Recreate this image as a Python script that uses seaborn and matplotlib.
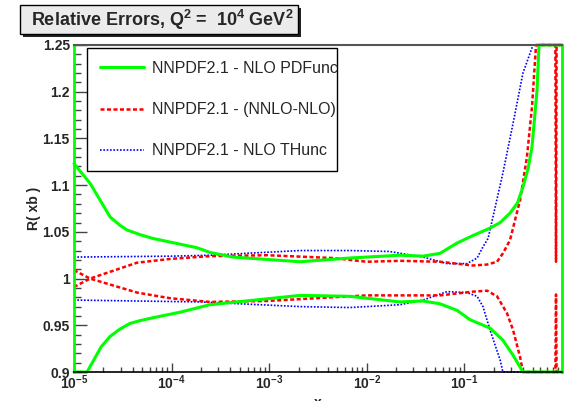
import numpy as np
import pandas as pd
import matplotlib
matplotlib.use("Agg")
import matplotlib.pyplot as plt
import seaborn as sns
from matplotlib.patches import Rectangle
from matplotlib.lines import Line2D
from matplotlib.ticker import FixedLocator, FixedFormatter, LogLocator, NullFormatter, MultipleLocator

sns.set_style("white")
plt.rcParams["font.family"] = ["Liberation Sans", "DejaVu Sans"]
plt.rcParams["mathtext.fontset"] = "custom"
plt.rcParams["mathtext.rm"] = "Liberation Sans"
plt.rcParams["mathtext.bf"] = "Liberation Sans:bold"
plt.rcParams["mathtext.it"] = "Liberation Sans:italic"

# ---------------- data ----------------
title = r"Relative Errors, Q$^{\mathbf{2}}$ =  10$^{\mathbf{4}}$ GeV$^{\mathbf{2}}$"
legend_labels = ["NNPDF2.1 - NLO PDFunc", "NNPDF2.1 - (NNLO-NLO)", "NNPDF2.1 - NLO THunc"]

# NLO PDF uncertainty band (green)
x_pdf_up = [1.0e-5, 1.46e-5, 1.85e-5, 2.34e-5, 2.96e-5, 3.49e-5, 4.75e-5, 6.4e-5, 1.82e-4,
            2.47e-4, 4.26e-4, 2.07e-3, 6.7e-3, 2.19e-2, 3.77e-2, 5.62e-2, 8.4e-2, 0.122,
            0.183, 0.233, 0.293, 0.35, 0.398, 0.45, 0.493, 0.555, 0.581, 1.0]
pdf_up = [1.123, 1.102, 1.084, 1.066, 1.057, 1.052, 1.047, 1.043, 1.033,
          1.028, 1.023, 1.018, 1.022, 1.025, 1.024, 1.027, 1.038, 1.046,
          1.054, 1.060, 1.070, 1.081, 1.098, 1.118, 1.141, 1.202, 1.25, 1.25]
x_pdf_lo = [1.0e-5, 1.36e-5, 1.9e-5, 2.34e-5, 2.96e-5, 3.75e-5, 4.75e-5, 6.4e-5, 1.22e-4,
            2.47e-4, 2.07e-3, 6.7e-3, 2.19e-2, 3.77e-2, 5.62e-2, 8.4e-2, 0.114, 0.183,
            0.248, 0.315, 0.398, 1.0]
pdf_lo = [0.90, 0.90, 0.927, 0.938, 0.946, 0.952, 0.955, 0.958, 0.964,
          0.972, 0.982, 0.981, 0.975, 0.976, 0.973, 0.966, 0.956, 0.947,
          0.934, 0.918, 0.90, 0.90]

# NNLO-NLO difference (red)
x_nn_up = [1.0e-5, 1.46e-5, 4.43e-5, 9.6e-5, 2.47e-4, 9.5e-4, 4.5e-3, 1.0e-2, 2.19e-2,
           5.62e-2, 0.122, 0.171, 0.216, 0.248, 0.293, 0.372, 0.437, 0.493, 0.542,
           0.855, 0.868, 0.88, 1.0]
nn_up = [1.009, 1.000, 1.017, 1.021, 1.024, 1.025, 1.022, 1.018, 1.019,
         1.018, 1.014, 1.015, 1.018, 1.027, 1.041, 1.084, 1.130, 1.184, 1.25,
         1.25, 1.018, 1.25, 1.25]
x_nn_lo = [1.0e-5, 1.46e-5, 4.43e-5, 9.6e-5, 2.47e-4, 9.5e-4, 4.5e-3, 1.0e-2, 2.19e-2,
           5.62e-2, 0.122, 0.171, 0.216, 0.273, 0.315, 0.372, 0.398,
           0.855, 0.868, 0.88, 1.0]
nn_lo = [0.991, 1.000, 0.985, 0.979, 0.975, 0.976, 0.980, 0.982, 0.982,
         0.982, 0.986, 0.987, 0.981, 0.963, 0.945, 0.916, 0.90,
         0.90, 0.983, 0.90, 0.90]

# NLO theory uncertainty (blue)
x_th_up = [1.0e-5, 1.0e-4, 2.47e-4, 2.07e-3, 6.7e-3, 1.71e-2, 3.77e-2, 6.64e-2, 0.106,
           0.135, 0.155, 0.175, 0.248, 0.315, 0.398, 0.505, 1.0]
th_up = [1.023, 1.024, 1.025, 1.030, 1.030, 1.029, 1.023, 1.016, 1.016,
         1.022, 1.034, 1.043, 1.113, 1.166, 1.220, 1.25, 1.25]
x_th_lo = [1.0e-5, 1.95e-4, 2.07e-3, 6.7e-3, 2.19e-2, 3.77e-2, 6.64e-2, 0.106,
           0.135, 0.155, 0.183, 0.232, 0.248, 1.0]
th_lo = [0.977, 0.975, 0.970, 0.969, 0.972, 0.977, 0.986, 0.985,
         0.981, 0.970, 0.945, 0.913, 0.90, 0.90]

y_ticks = [0.9, 0.95, 1.0, 1.05, 1.1, 1.15, 1.2, 1.25]
x_ticks = [1e-5, 1e-4, 1e-3, 1e-2, 1e-1]
x_tick_labels = [r"$\mathbf{10^{-5}}$", r"$\mathbf{10^{-4}}$", r"$\mathbf{10^{-3}}$",
                 r"$\mathbf{10^{-2}}$", r"$\mathbf{10^{-1}}$"]

# ---------------- figure ----------------
W, H = 565, 401
fig = plt.figure(figsize=(W / 100, H / 100), dpi=100)
fig.patch.set_facecolor("white")
ax = fig.add_axes([74 / W, 1 - 372 / H, 488 / W, 327 / H])
ax.set_facecolor("white")

GREEN, RED, BLUE = "#00ff00", "#ff0000", "#0000ff"
sty = {
    "pdf": dict(color=GREEN, linestyle="-", linewidth=2.2),
    "nn": dict(color=RED, linestyle=(0, (1.6, 1.0)), linewidth=1.8),
    "th": dict(color=BLUE, linestyle=(0, (1.0, 1.0)), linewidth=1.2),
}

def draw(x, y, key):
    df = pd.DataFrame({"x": x, "y": np.clip(y, 0.9, 1.25)})
    sns.lineplot(data=df, x="x", y="y", ax=ax, estimator=None, sort=False,
                 legend=False, clip_on=False, **sty[key])

draw(x_th_up, th_up, "th")
draw(x_th_lo, th_lo, "th")
draw(x_nn_up, nn_up, "nn")
draw(x_nn_lo, nn_lo, "nn")
draw(x_pdf_up, pdf_up, "pdf")
draw(x_pdf_lo, pdf_lo, "pdf")

ax.set_xscale("log")
ax.set_xlim(1e-5, 1.0)
ax.set_ylim(0.9, 1.25)

# ticks
ax.yaxis.set_major_locator(FixedLocator(y_ticks))
ax.yaxis.set_major_formatter(FixedFormatter([f"{v:g}" for v in y_ticks]))
ax.yaxis.set_minor_locator(MultipleLocator(0.01))
ax.xaxis.set_major_locator(FixedLocator(x_ticks))
ax.xaxis.set_major_formatter(FixedFormatter(x_tick_labels))
ax.xaxis.set_minor_locator(LogLocator(base=10, subs=np.arange(2, 10), numticks=20))
ax.xaxis.set_minor_formatter(NullFormatter())

tc = "#444444"
ax.tick_params(axis="y", which="major", direction="in", length=9.5, width=1.0, color=tc,
               left=True, right=False, pad=3, labelsize=10)
ax.tick_params(axis="y", which="minor", direction="in", length=5, width=1.0, color=tc,
               left=True, right=False)
ax.tick_params(axis="x", which="major", direction="in", length=6.5, width=1.0, color=tc,
               bottom=True, top=False, pad=1, labelsize=10)
ax.tick_params(axis="x", which="minor", direction="in", length=3.6, width=1.0, color=tc,
               bottom=True, top=False)
for lab in ax.get_yticklabels() + ax.get_xticklabels():
    lab.set_fontweight("bold")

ax.set_ylabel("R( xb )", fontsize=10, fontweight="bold", labelpad=1)
ax.set_xlabel("x", fontsize=10, fontweight="bold", labelpad=3)

for side in ["left", "right"]:
    ax.spines[side].set_color(GREEN)
    ax.spines[side].set_linewidth(2.0)
ax.spines["bottom"].set_color("black")
ax.spines["bottom"].set_linewidth(1.2)
ax.spines["top"].set_color("#555555")
ax.spines["top"].set_linewidth(1.5)

# legend
handles = [Line2D([], [], **sty["pdf"]), Line2D([], [], **sty["nn"]), Line2D([], [], **sty["th"])]
x0 = (87 - 74) / 488
y1 = (372 - 48) / 327
y0 = (372 - 168) / 327
leg = ax.legend(handles, legend_labels, loc="upper left", mode="expand",
                bbox_to_anchor=(x0, y0, (337 - 87) / 488, y1 - y0),
                fontsize=11.5, frameon=True, fancybox=False, shadow=False,
                handlelength=2.75, handletextpad=0.55, labelspacing=1.65,
                borderpad=0.8, borderaxespad=0.0)
leg.get_frame().set_edgecolor("black")
leg.get_frame().set_linewidth(1.0)
leg.get_frame().set_alpha(1.0)

# title box
bx0, bx1, by0, by1 = 20, 298, 5, 34
fig.add_artist(Rectangle(((bx0 + 3) / W, 1 - (by1 + 3) / H), (bx1 - bx0) / W, (by1 - by0) / H,
                         transform=fig.transFigure, facecolor="#222222", edgecolor="none"))
fig.add_artist(Rectangle((bx0 / W, 1 - by1 / H), (bx1 - bx0) / W, (by1 - by0) / H,
                         transform=fig.transFigure, facecolor="#ebebeb", edgecolor="black",
                         linewidth=1.0))
fig.text((bx0 + bx1) / 2 / W + 3 / W, 1 - (by0 + by1) / 2 / H, title, ha="center", va="center",
         fontsize=13, fontweight="bold")

fig.savefig("out.png", dpi=100, facecolor="white")
